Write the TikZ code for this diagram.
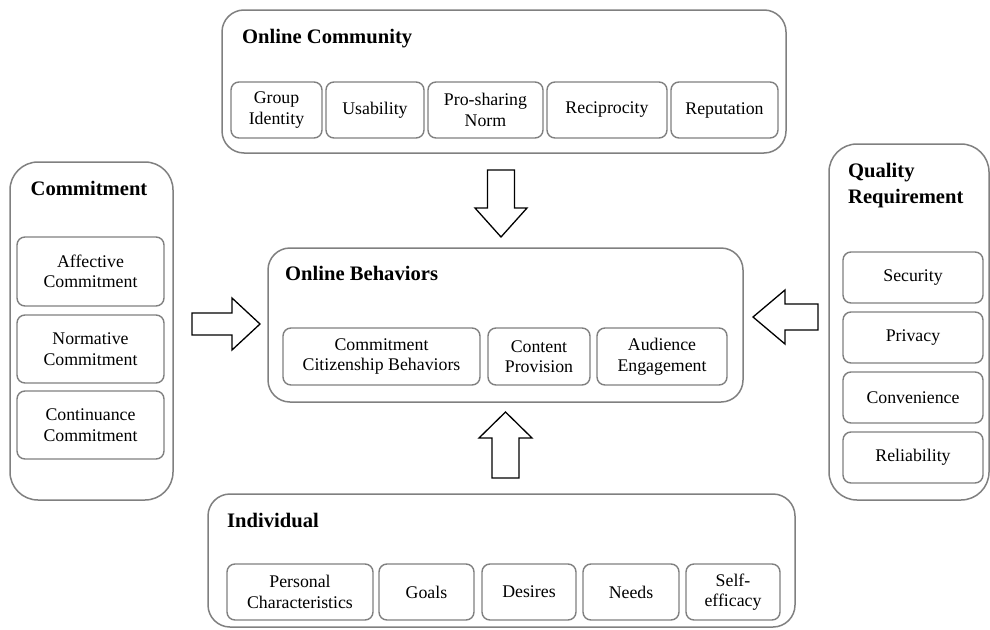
\documentclass[tikz,border=0pt]{standalone}
\usepackage{fontspec}
\setmainfont{Liberation Serif}
\definecolor{boxgray}{HTML}{808080}
\newcommand{\bodyfnt}{\fontsize{17.8pt}{20.6pt}\selectfont}
\newcommand{\titlefnt}{\fontsize{20.6pt}{26pt}\selectfont\bfseries}
\begin{document}
\begin{tikzpicture}[x=1pt,y=-1pt,
  outer/.style={draw=boxgray, line width=1.5pt, rounded corners=22pt, inner sep=0pt},
  sub/.style={draw=boxgray, line width=1.4pt, rounded corners=8pt, align=center, inner sep=0pt, font=\bodyfnt},
  ttl/.style={anchor=base west, inner sep=0pt, font=\titlefnt},
  blockarrow/.style={draw=black, line width=1.3pt, fill=white, line join=miter}]
\useasboundingbox[fill=white] (0,0) rectangle (990,629);

% outer boxes
\node[outer, minimum width=564pt, minimum height=143pt] (oc) at (504,81.5) {};
\node[outer, rounded corners=28pt, minimum width=163pt, minimum height=338pt] (cm) at (91.5,331) {};
\node[outer, minimum width=475pt, minimum height=154pt] (ob) at (505.5,325) {};
\node[outer, rounded corners=28pt, minimum width=160pt, minimum height=356pt] (qr) at (909,322) {};
\node[outer, minimum width=587pt, minimum height=133pt] (ind) at (501.5,560.5) {};

% titles
\node[ttl] (tOC) at (242,43) {Online Community};
\node[ttl, anchor=base] (tCM) at (89,195) {Commitment};
\node[ttl] (tOB) at (285,280) {Online Behaviors};
\node[ttl, align=left, anchor=base west] (tQR1) at (848,177) {Quality};
\node[ttl] (tQR2) at (848,203) {Requirement};
\node[ttl] (tIN) at (227,527) {Individual};

% online community items
\node[sub, minimum width=91pt, minimum height=56pt] (gi) at (276.5,110) {Group\\Identity};
\node[sub, minimum width=98pt, minimum height=56pt] (us) at (375,110) {Usability};
\node[sub, minimum width=115pt, minimum height=56pt] (ps) at (485.5,110) {Pro-sharing\\Norm};
\node[sub, minimum width=120pt, minimum height=56pt] (rc) at (607,110) {Reciprocity};
\node[sub, minimum width=107pt, minimum height=56pt] (rp) at (724.5,110) {Reputation};

% online behaviors items
\node[sub, minimum width=197pt, minimum height=57pt] (ccb) at (381.5,356.5) {Commitment\\Citizenship Behaviors};
\node[sub, minimum width=102pt, minimum height=57pt] (cp) at (539,356.5) {Content\\Provision};
\node[sub, minimum width=130pt, minimum height=57pt] (ae) at (662,356.5) {Audience\\Engagement};

% individual items
\node[sub, minimum width=146pt, minimum height=56pt] (pc) at (300,592) {Personal\\Characteristics};
\node[sub, minimum width=95pt, minimum height=56pt] (go) at (426.5,592) {Goals};
\node[sub, minimum width=94pt, minimum height=56pt] (de) at (529,592) {Desires};
\node[sub, minimum width=96pt, minimum height=56pt] (ne) at (631,592) {Needs};
\node[sub, minimum width=94pt, minimum height=56pt] (se) at (733,592) {Self-\\efficacy};

% commitment items
\node[sub, minimum width=147pt, minimum height=69pt] (ac) at (90.5,271.5) {Affective\\Commitment};
\node[sub, minimum width=147pt, minimum height=68pt] (nc) at (90.5,349) {Normative\\Commitment};
\node[sub, minimum width=147pt, minimum height=68pt] (cc) at (90.5,425) {Continuance\\Commitment};

% quality requirement items
\node[sub, minimum width=140pt, minimum height=51pt] (sec) at (913,277.5) {Security};
\node[sub, minimum width=140pt, minimum height=51pt] (pri) at (913,337.5) {Privacy};
\node[sub, minimum width=140pt, minimum height=51pt] (con) at (913,397.5) {Convenience};
\node[sub, minimum width=140pt, minimum height=51pt] (rel) at (913,457.5) {Reliability};

% block arrows
\draw[blockarrow] (487.5,170) -- (514.5,170) -- (514.5,208) -- (527,208) -- (501,237) -- (475,208) -- (487.5,208) -- cycle;
\draw[blockarrow] (492,478) -- (519,478) -- (519,438) -- (532,438) -- (505.5,412) -- (479,438) -- (492,438) -- cycle;
\draw[blockarrow] (192,313) -- (232,313) -- (232,298) -- (260,324) -- (232,350) -- (232,335) -- (192,335) -- cycle;
\draw[blockarrow] (818,304) -- (785,304) -- (785,290) -- (753,317) -- (785,344) -- (785,330) -- (818,330) -- cycle;
\end{tikzpicture}
\end{document}
